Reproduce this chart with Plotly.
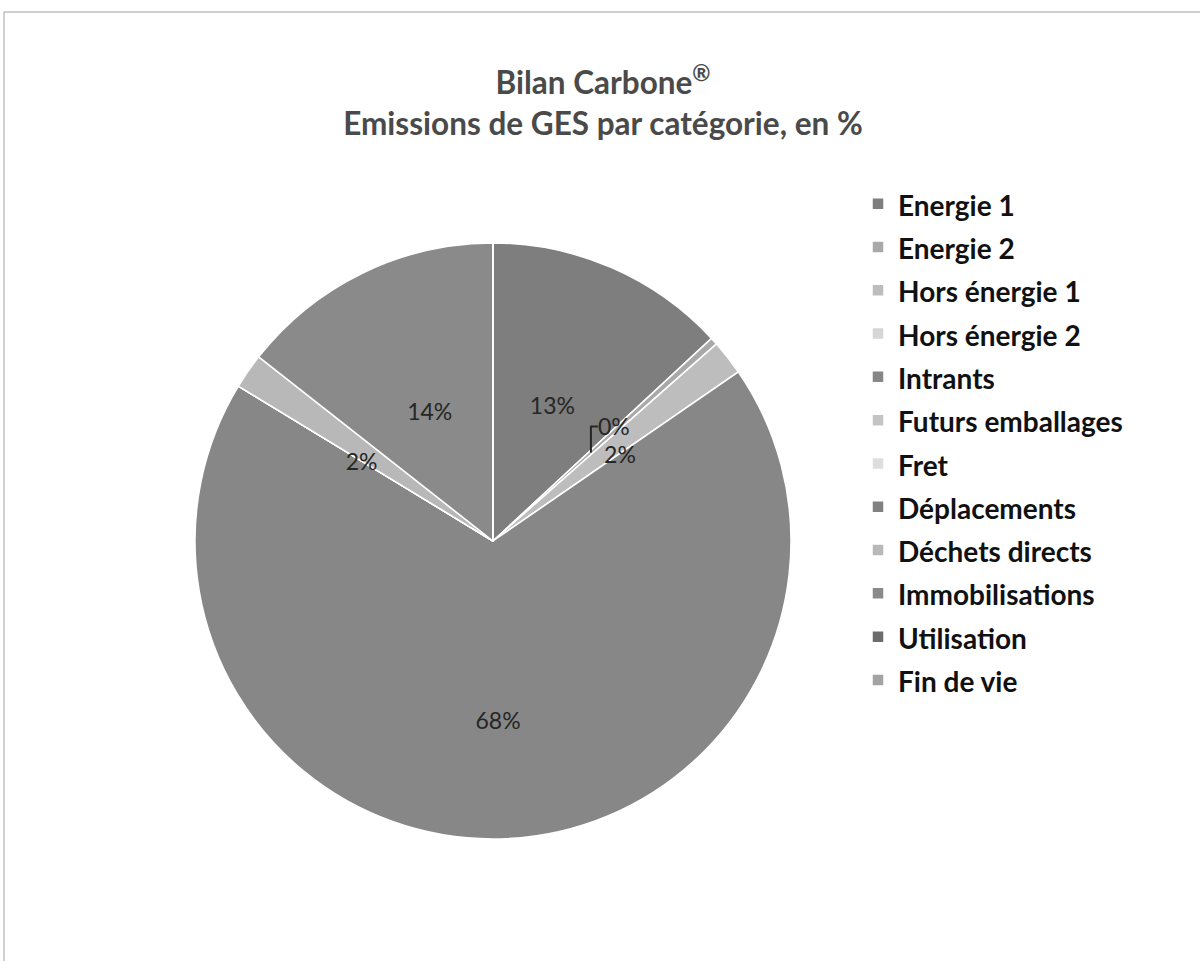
import plotly.graph_objects as go

# ---- data ----
categories = ["Energie 1", "Energie 2", "Hors énergie 1", "Hors énergie 2", "Intrants",
              "Futurs emballages", "Fret", "Déplacements", "Déchets directs",
              "Immobilisations", "Utilisation", "Fin de vie"]
shares = [13.1, 0.4, 1.9, 0.0, 68.3, 0.0, 0.0, 0.0, 1.9, 14.4, 0.0, 0.0]
colors = ["#7e7e7e", "#a9a9a9", "#bdbdbd", "#d6d6d6", "#878787", "#c4c4c4",
          "#dedede", "#818181", "#b8b8b8", "#8a8a8a", "#6c6c6c", "#a3a3a3"]

W, H = 1200, 961
cx, cy, R = 493, 541, 298      # pie centre / radius in pixels

def dom(r):
    return dict(x=[(cx - r) / W, (cx + r) / W],
                y=[(H - cy - r) / H, (H - cy + r) / H])

legend_labels = ['<span style="font-size:28px">%s</span>' % c for c in categories]
lab_font = dict(family="Lato, sans-serif", size=23, color="#262626", weight="normal")

def tpl(cond):
    return ["%{percent:.0%}" if (v > 0 and cond(v)) else "" for v in shares]

fig = go.Figure()
# the visible pie (also drives the legend)
fig.add_trace(go.Pie(
    labels=legend_labels, values=shares, sort=False, direction="clockwise",
    rotation=0, domain=dom(R), textinfo="none", hoverinfo="label+percent",
    marker=dict(colors=colors, line=dict(color="white", width=1.5)),
    showlegend=True,
))

# invisible pies used only to position the data labels
def label_pie(radius, template, position):
    return go.Pie(
        labels=legend_labels, values=shares, sort=False, direction="clockwise",
        rotation=0, domain=dom(radius), texttemplate=template,
        textposition=position, insidetextorientation="horizontal",
        marker=dict(colors=["rgba(0,0,0,0)"] * len(shares), line=dict(width=0)),
        insidetextfont=lab_font, outsidetextfont=lab_font,
        hoverinfo="skip", showlegend=False,
    )

fig.add_trace(label_pie(208, tpl(lambda v: 5 <= v < 50), "inside"))
fig.add_trace(label_pie(358, tpl(lambda v: v >= 50), "inside"))
fig.add_trace(label_pie(132, tpl(lambda v: v < 5), "outside"))

fig.update_layout(
    width=W, height=H,
    margin=dict(l=0, r=0, t=0, b=0),
    paper_bgcolor="white", plot_bgcolor="white",
    title=dict(text="<b>Bilan Carbone<sup>®</sup><br>Emissions de GES par catégorie, en %</b>",
               x=603 / W, xanchor="center", y=1 - 94 / H, yanchor="top",
               font=dict(family="Lato, sans-serif", size=31.5, color="#4a4a4a")),
    legend=dict(x=858 / W, xanchor="left", y=1 - 177 / H, yanchor="top",
                font=dict(family="Lato, sans-serif", size=31, color="#111111",
                          weight="bold"),
                bgcolor="rgba(0,0,0,0)", itemclick=False),
    shapes=[dict(type="rect", xref="paper", yref="paper",
                 x0=4 / W, x1=1.01, y0=-0.01, y1=1 - 12 / H,
                 line=dict(color="#a0a0a0", width=1), fillcolor="rgba(0,0,0,0)")],
)
fig.write_html("out.html", config={"displayModeBar": False},
               post_script="document.body.style.margin='0px';")
